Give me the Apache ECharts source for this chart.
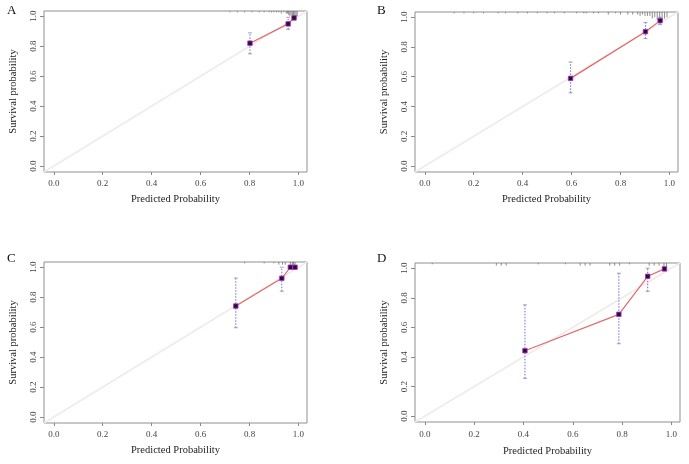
<!DOCTYPE html>
<html><head><meta charset="utf-8">
<script src="https://cdn.jsdelivr.net/npm/echarts@6/dist/echarts.min.js"></script>
<style>html,body{margin:0;padding:0;background:#fff}#c{width:689px;height:464px}</style>
</head><body><div id="c"></div>
<script>
// ---- data ----
const panelLetters = ['A', 'B', 'C', 'D'];
const tickValues = [0, 0.2, 0.4, 0.6, 0.8, 1.0];
const xTitle = 'Predicted Probability';
const yTitle = 'Survival probability';

// calibration points: predicted, observed, CI low, CI high
const predA = [0.802, 0.958, 0.982];
const obsA  = [0.820, 0.949, 0.989];
const lowA  = [0.749, 0.913, 0.975];
const highA = [0.889, 0.993, 1.000];

const predB = [0.596, 0.902, 0.962];
const obsB  = [0.589, 0.903, 0.977];
const lowB  = [0.492, 0.856, 0.950];
const highB = [0.699, 0.964, 1.000];

const predC = [0.744, 0.932, 0.967, 0.986];
const obsC  = [0.741, 0.926, 1.000, 1.000];
const lowC  = [0.596, 0.840, 1.000, 1.000];
const highC = [0.928, 1.000, 1.000, 1.000];

const predD = [0.406, 0.787, 0.904, 0.972];
const obsD  = [0.442, 0.688, 0.945, 0.995];
const lowD  = [0.255, 0.489, 0.844, 0.985];
const highD = [0.752, 0.966, 1.000, 1.000];

// histogram spikes of predicted values (position, relative frequency)
const rugXA = [0.72,0.75,0.78,0.81,0.84,0.86,0.88,0.89,0.90,0.91,0.92,0.93,0.94,0.95,0.955,0.96,0.965,0.97,0.975,0.98,0.985,0.99,0.995];
const rugNA = [1,1,1,1,1,1,1,1,1,1,1,2,1,2,2,3,4,3,5,6,6,5,4];
const rugXB = [0.12,0.16,0.20,0.24,0.30,0.33,0.38,0.42,0.46,0.50,0.53,0.57,0.62,0.65,0.66,0.69,0.71,0.75,0.78,0.80,0.83,0.85,0.87,0.88,0.89,0.90,0.91,0.92,0.93,0.94,0.95,0.96,0.97,0.98,0.99];
const rugNB = [1,1,1,1,1,1,1,1,1,1,1,1,1,1,1,1,1,2,1,2,2,2,2,3,2,3,3,3,5,4,6,6,6,5,4];
const rugXC = [0.78,0.86,0.90,0.92,0.935,0.946,0.967,0.975,0.98,0.986];
const rugNC = [1,1,1,2,2,2,3,3,3,3];
const rugXD = [0.03,0.29,0.31,0.33,0.46,0.57,0.63,0.65,0.67,0.75,0.77,0.79,0.83,0.91,0.93,0.95,0.97,0.98];
const rugND = [1,2,2,2,1,1,2,2,2,2,2,2,1,2,2,2,3,3];

// ---- layout ----
const AXMIN = -0.04, AXMAX = 1.035;
const grids = [
  {left: 44, top: 11, width: 263, height: 161},
  {left: 415, top: 12, width: 263, height: 160},
  {left: 44, top: 262, width: 263, height: 161},
  {left: 415, top: 263, width: 265, height: 159}
];
const xLabelMargin = [7, 7, 7, 8];
const xNameGap = [22, 22, 22, 24];
const letterPos = [[7, 4], [377, 4], [7, 252], [377, 252]];

const panels = [
  {p: predA, o: obsA, lo: lowA, hi: highA, rx: rugXA, rn: rugNA},
  {p: predB, o: obsB, lo: lowB, hi: highB, rx: rugXB, rn: rugNB},
  {p: predC, o: obsC, lo: lowC, hi: highC, rx: rugXC, rn: rugNC},
  {p: predD, o: obsD, lo: lowD, hi: highD, rx: rugXD, rn: rugND}
];

const font = 'Liberation Serif, Times New Roman, serif';
const xAxes = [], yAxes = [], series = [], graphics = [];

grids.forEach((g, i) => {
  g.show = true; g.borderColor = '#8f8f8f'; g.borderWidth = 1; g.backgroundColor = 'transparent';
  xAxes.push({
    gridIndex: i, type: 'value', min: AXMIN, max: AXMAX, position: 'bottom',
    axisLine: {show: false, onZero: false},
    axisTick: {show: true, length: 3, lineStyle: {color: '#888'}, customValues: tickValues},
    axisLabel: {customValues: tickValues, formatter: v => v.toFixed(1), fontFamily: font, fontSize: 9, color: '#444', margin: xLabelMargin[i]},
    splitLine: {show: false},
    name: xTitle, nameLocation: 'middle', nameGap: xNameGap[i],
    nameTextStyle: {fontFamily: font, fontSize: 10.5, color: '#222'}
  });
  yAxes.push({
    gridIndex: i, type: 'value', min: AXMIN, max: AXMAX, position: 'left',
    axisLine: {show: false, onZero: false},
    axisTick: {show: true, length: 4, lineStyle: {color: '#888'}, customValues: tickValues},
    axisLabel: {customValues: tickValues, formatter: v => v.toFixed(1), fontFamily: font, fontSize: 9, color: '#444', margin: 6, rotate: 90},
    splitLine: {show: false},
    name: yTitle, nameLocation: 'middle', nameGap: 25,
    nameTextStyle: {fontFamily: font, fontSize: 10.5, color: '#222'}
  });

  const d = panels[i];
  // ideal diagonal
  series.push({
    type: 'line', xAxisIndex: i, yAxisIndex: i, data: [[AXMIN, AXMIN], [AXMAX, AXMAX]],
    showSymbol: false, symbol: 'none', silent: true, clip: true, z: 1,
    lineStyle: {color: '#f2e9e9', width: 1.5}
  });
  // histogram spikes along top
  series.push({
    type: 'custom', xAxisIndex: i, yAxisIndex: i, silent: true, z: 2, clip: true,
    data: d.rx.map((x, k) => [x, d.rn[k]]),
    renderItem: (params, api) => {
      const p = api.coord([api.value(0), AXMAX]);
      const len = api.value(1) * 1.3;
      return {type: 'line', shape: {x1: p[0], y1: p[1], x2: p[0], y2: p[1] + len},
        style: {stroke: '#6f6f6f', lineWidth: 0.8}};
    }
  });
  // error bars
  series.push({
    type: 'custom', xAxisIndex: i, yAxisIndex: i, silent: true, z: 3,
    data: d.p.map((x, k) => [x, d.lo[k], d.hi[k]]),
    renderItem: (params, api) => {
      const a = api.coord([api.value(0), api.value(1)]);
      const b = api.coord([api.value(0), api.value(2)]);
      const c = 2;
      return {type: 'group', children: [
        {type: 'line', shape: {x1: a[0], y1: a[1], x2: b[0], y2: b[1]},
          style: {stroke: '#6d6dd8', lineWidth: 1, lineDash: [1.5, 1.5]}},
        {type: 'line', shape: {x1: a[0] - c, y1: a[1], x2: a[0] + c, y2: a[1]},
          style: {stroke: '#8a8ab0', lineWidth: 0.8}},
        {type: 'line', shape: {x1: b[0] - c, y1: b[1], x2: b[0] + c, y2: b[1]},
          style: {stroke: '#8a8ab0', lineWidth: 0.8}}
      ]};
    }
  });
  // calibration line with points
  series.push({
    type: 'line', xAxisIndex: i, yAxisIndex: i, z: 4,
    data: d.p.map((x, k) => [x, d.o[k]]),
    symbol: 'rect', symbolSize: 4.5, showSymbol: true,
    lineStyle: {color: '#e06a6a', width: 1.2},
    itemStyle: {color: '#2e0a45', borderColor: '#a83ab8', borderWidth: 0.8}
  });

  graphics.push({
    type: 'text', left: letterPos[i][0], top: letterPos[i][1],
    style: {text: panelLetters[i], font: '13px ' + font, fill: '#111'}
  });
});

const chart = echarts.init(document.getElementById('c'), null, {renderer: 'canvas'});
chart.setOption({
  animation: false,
  backgroundColor: '#fff',
  grid: grids, xAxis: xAxes, yAxis: yAxes, series: series, graphic: graphics
});
</script></body></html>
